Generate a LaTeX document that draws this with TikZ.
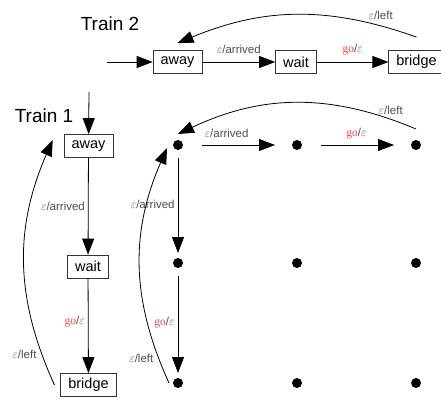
\documentclass[tikz,border=0pt]{standalone}
\usepackage{fontspec}
\setmainfont{Liberation Sans}
\newfontfamily\gofont{Liberation Serif}
\usetikzlibrary{
    arrows.meta,
    positioning
}
\tikzset{
    every picture/.style = {
        > = {Triangle[length = 16pt, width = 12pt]},
        x = 1pt,
        y = 1pt,
        line width = 0.8pt
    },
    box/.style = {
        draw = black!80,
        rectangle,
        inner xsep = 7.5pt,
        inner ysep = 0pt,
        minimum height = 23pt,
        font = \fontsize{14.5}{17}\selectfont
    },
    dot/.style = {
        circle,
        fill,
        minimum size = 10pt,
        inner sep = 0pt,
        outer sep = 0pt
    },
    title/.style = {font = \fontsize{19}{22}\selectfont},
    lbl/.style = {
        font = \fontsize{11.5}{13}\selectfont,
        text = black!70,
        inner sep = 1pt
    },
    hgap/.style = {shorten < = 19pt, shorten > = 17pt},
    vgap/.style = {shorten < = 8pt, shorten > = 5pt}
}
\newcommand{\goeps}{\textcolor{red!75}{\gofont go}/$\varepsilon$}
\newcommand{\epsarr}{$\varepsilon$/arrived}
\newcommand{\epsleft}{$\varepsilon$/left}

\begin{document}
\begin{tikzpicture}
    \useasboundingbox (0,0) rectangle (441,-401);
    % train 2
    \node[title] (t2) at (110,-24) {Train 2};
    \coordinate (s2) at (107,-62);
    \node[box] (away2) at (177.5,-62) {away};
    \node[box] (wait2) at (296,-62) {wait};
    \node[box] (bridge2) at (416.5,-62) {bridge};

    \path[->] (s2) edge (away2);
    \path[->] (away2) edge node[lbl, above = 7pt] {\epsarr} (wait2);
    \path[->] (wait2) edge node[lbl, above = 6pt] {\goeps} (bridge2);
    \path[->] ([yshift = 13pt]bridge2.north) edge[bend right = 21]
        node[lbl, pos = 0.14, above = 5pt] {\epsleft} ([yshift = 7pt]away2.north);

    % train 1
    \node[title] (t1) at (44,-116) {Train 1};
    \coordinate (s1) at (89,-92);
    \node[box] (away1) at (88.5,-146) {away};
    \node[box] (wait1) at (88,-266.5) {wait};
    \node[box] (bridge1) at (88.5,-385) {bridge};

    \path[->] (s1) edge (away1);
    \path[->] (away1) edge node[lbl, left = 2pt] {\epsarr} (wait1);
    \path[->] (wait1) edge node[lbl, left = 2pt, pos = 0.46] {\goeps} (bridge1);
    \path[->] ([xshift = -6pt]bridge1.west) edge[bend left = 24]
        node[lbl, pos = 0.12, left = 4pt] {\epsleft} ([xshift = -11pt, yshift = 6pt]away1.west);

    % both trains
    \foreach \r/\y in {1/145, 2/263, 3/383}
        \foreach \c/\x in {1/178, 2/297, 3/416}
            \node[dot] (d\r\c) at (\x,-\y) {};

    \path[->] (d11) edge[hgap] node[lbl, above = 6pt, pos = 0.4] {\epsarr} (d12);
    \path[->] (d12) edge[hgap] node[lbl, above = 5pt] {\goeps} (d13);
    \path[->] (d11) edge[vgap] node[lbl, left = 2pt] {\epsarr} (d21);
    \path[->] (d21) edge[vgap] node[lbl, left = 2pt] {\goeps} (d31);
    \path[->] ([yshift = 16pt]d13.center) edge[bend right = 24]
        node[lbl, pos = 0.1, above = 3pt] {\epsleft} ([yshift = 11pt]d11.center);
    \path[->] ([xshift = -4pt]d31.west) edge[bend left = 24]
        node[lbl, pos = 0.1, left = 4pt] {\epsleft} ([xshift = -6pt, yshift = -3pt]d11.west);
\end{tikzpicture}
\end{document}
